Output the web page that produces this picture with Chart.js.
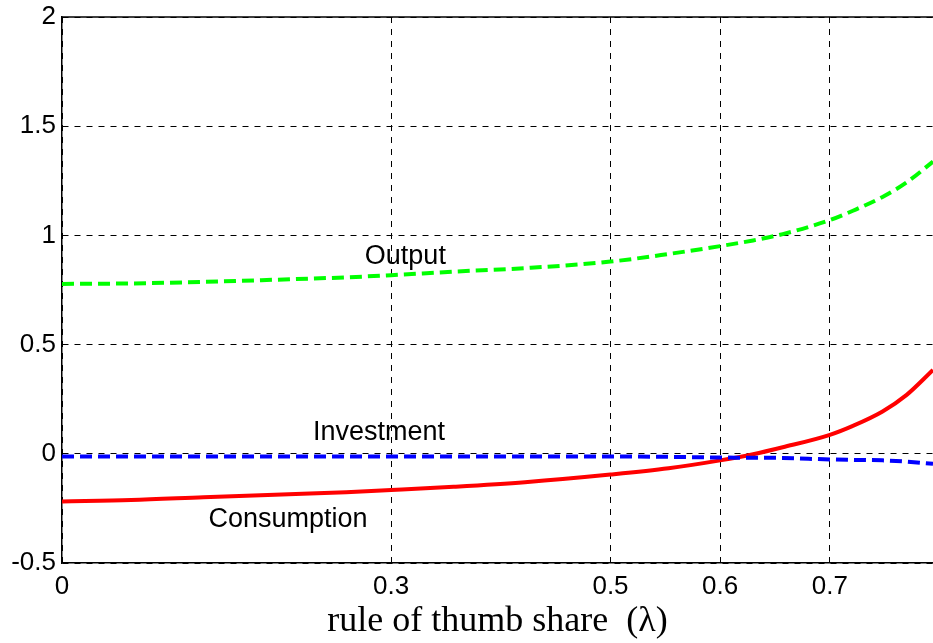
<!DOCTYPE html>
<html>
<head>
<meta charset="utf-8">
<script src="https://cdn.jsdelivr.net/npm/chart.js@4.4.1/dist/chart.umd.min.js"></script>
<style>
  html, body { margin: 0; padding: 0; background: #fff; overflow: hidden; }
  #wrap { width: 933px; height: 643px; }
</style>
</head>
<body>
<div id="wrap"><canvas id="chart" width="933" height="643"></canvas></div>
<script>
// rule-of-thumb share (lambda) grid
const lambdaValues = [0, 0.063, 0.129, 0.194, 0.259, 0.3, 0.357, 0.422, 0.5, 0.553, 0.6, 0.63, 0.657, 0.7, 0.721, 0.748, 0.77, 0.794];

// responses per series
const outputValues      = [0.778, 0.78, 0.787, 0.797, 0.808, 0.818, 0.834, 0.85, 0.88, 0.915, 0.951, 0.977, 1.006, 1.07, 1.113, 1.176, 1.243, 1.338];
const consumptionValues = [-0.218, -0.212, -0.199, -0.187, -0.176, -0.166, -0.151, -0.13, -0.095, -0.066, -0.03, -0.002, 0.03, 0.087, 0.128, 0.194, 0.27, 0.384];
const investmentValues  = [-0.012, -0.012, -0.012, -0.012, -0.012, -0.012, -0.012, -0.012, -0.012, -0.014, -0.017, -0.018, -0.019, -0.026, -0.028, -0.03, -0.036, -0.046];

// axis ticks
const xTicks = [0, 0.3, 0.5, 0.6, 0.7];
const yTicks = [-0.5, 0, 0.5, 1, 1.5, 2];

// in-plot labels (data coordinates)
const seriesLabels = [
  { text: 'Output', x: 0.313, y: 0.902 },
  { text: 'Investment', x: 0.289, y: 0.096 },
  { text: 'Consumption', x: 0.206, y: -0.302 }
];

function toPoints(values) {
  return lambdaValues.map((x, i) => ({ x: x, y: values[i] }));
}

// Draw the top frame line and the text labels inside the plot
const framePlugin = {
  id: 'frame',
  afterDraw(chart) {
    const ctx = chart.ctx;
    const area = chart.chartArea;
    const xs = chart.scales.x;
    const ys = chart.scales.y;
    ctx.save();
    ctx.strokeStyle = '#000';
    ctx.lineWidth = 1.5;
    ctx.beginPath();
    ctx.moveTo(area.left, area.top);
    ctx.lineTo(area.right, area.top);
    ctx.stroke();

    ctx.fillStyle = '#000';
    ctx.font = '27px "Liberation Sans", Arial, sans-serif';
    ctx.textAlign = 'center';
    ctx.textBaseline = 'middle';
    seriesLabels.forEach(l => {
      ctx.fillText(l.text, xs.getPixelForValue(l.x), ys.getPixelForValue(l.y));
    });
    ctx.restore();
  }
};

new Chart(document.getElementById('chart'), {
  type: 'line',
  data: {
    datasets: [
      {
        label: 'Output',
        data: toPoints(outputValues),
        borderColor: '#00ff00',
        borderWidth: 4,
        borderDash: [12, 6],
        pointRadius: 0,
        cubicInterpolationMode: 'monotone',
        fill: false
      },
      {
        label: 'Investment',
        data: toPoints(investmentValues),
        borderColor: '#0000ff',
        borderWidth: 4,
        borderDash: [12, 6],
        pointRadius: 0,
        cubicInterpolationMode: 'monotone',
        fill: false
      },
      {
        label: 'Consumption',
        data: toPoints(consumptionValues),
        borderColor: '#ff0000',
        borderWidth: 4,
        pointRadius: 0,
        cubicInterpolationMode: 'monotone',
        fill: false
      }
    ]
  },
  options: {
    responsive: false,
    animation: false,
    layout: { padding: { top: 17, right: 0, left: 0, bottom: 0 } },
    plugins: {
      legend: { display: false },
      tooltip: { enabled: false }
    },
    scales: {
      x: {
        type: 'linear',
        min: 0,
        max: 0.794,
        afterBuildTicks: scale => { scale.ticks = xTicks.map(v => ({ value: v })); },
        afterFit: scale => { scale.height = 80; },
        ticks: {
          color: '#000',
          font: { family: '"Liberation Sans", Arial, sans-serif', size: 26 },
          padding: 8,
          maxRotation: 0,
          callback: v => String(v)
        },
        grid: { color: '#000', lineWidth: 1, drawTicks: false },
        border: { display: true, color: '#000', width: 1.5, dash: [6, 6] },
        title: {
          display: true,
          text: 'rule of thumb share  (\u03bb)',
          color: '#000',
          font: { family: '"Liberation Serif", "Times New Roman", serif', size: 36 },
          padding: { top: 0, bottom: 0 }
        }
      },
      y: {
        type: 'linear',
        min: -0.5,
        max: 2,
        afterBuildTicks: scale => { scale.ticks = yTicks.map(v => ({ value: v })); },
        afterFit: scale => {
          scale.width = 62;
          scale.paddingTop = 0;
          scale.paddingBottom = 0;
        },
        ticks: {
          color: '#000',
          font: { family: '"Liberation Sans", Arial, sans-serif', size: 26 },
          padding: 6,
          callback: v => String(v)
        },
        grid: { color: '#000', lineWidth: 1, drawTicks: false },
        border: { display: true, color: '#000', width: 1.5, dash: [6, 6] }
      }
    }
  },
  plugins: [framePlugin]
});
</script>
</body>
</html>
